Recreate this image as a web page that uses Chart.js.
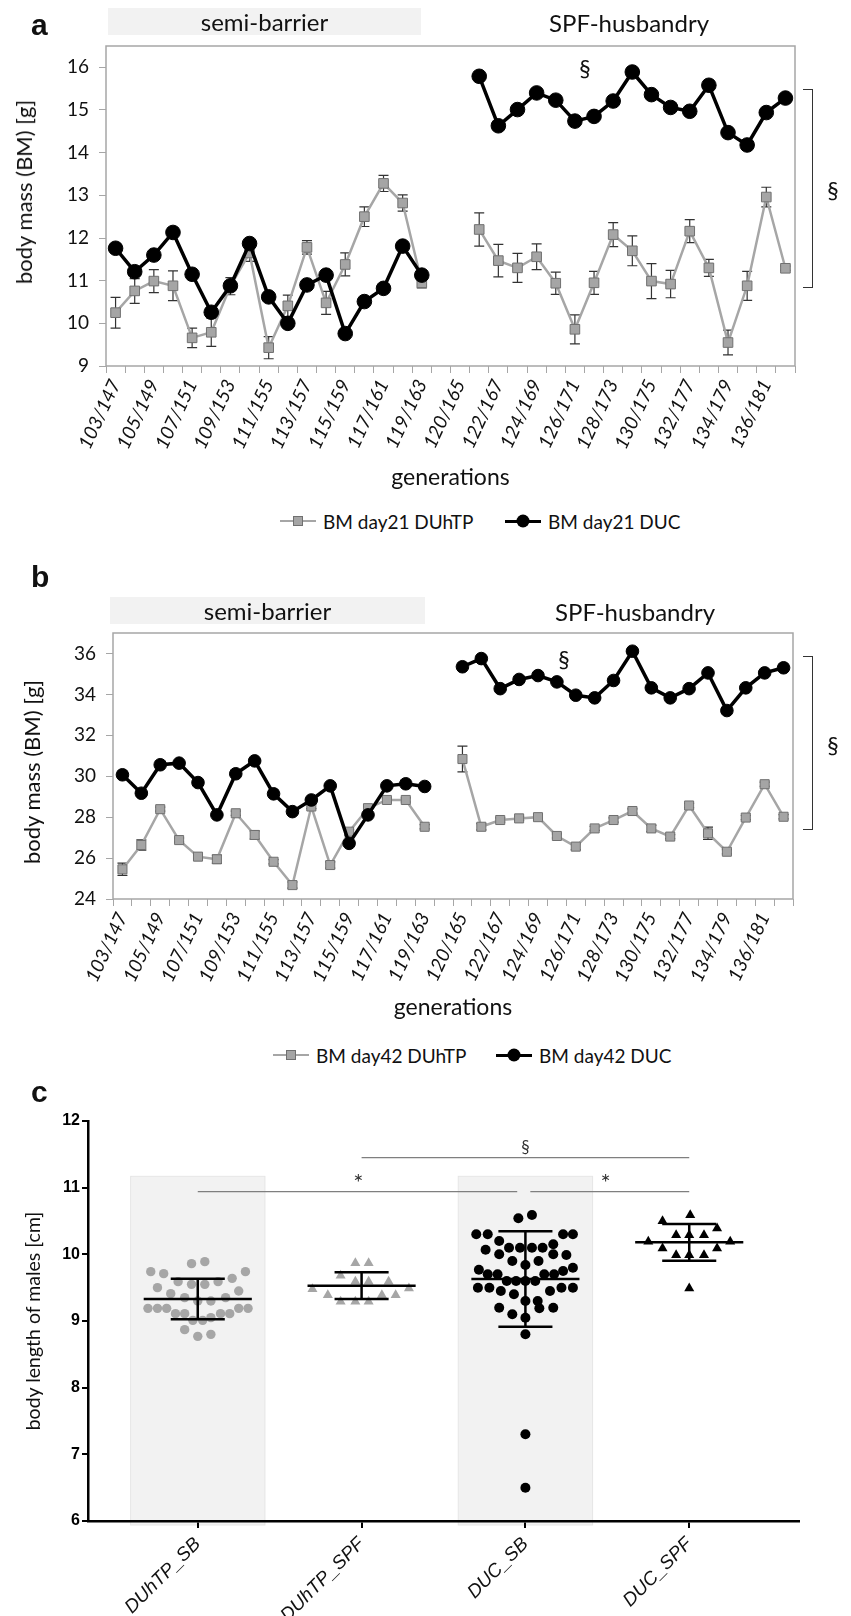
<!DOCTYPE html>
<html>
<head>
<meta charset="utf-8">
<script src="https://cdn.jsdelivr.net/npm/chart.js@4.4.1/dist/chart.umd.min.js"></script>
<style>
  body { margin: 0; background: #fff; }
  #page { position: relative; width: 851px; height: 1616px; overflow: hidden; font-family: Lato, sans-serif; color: #111; }
  canvas { position: absolute; left: 0; }
  .abs { position: absolute; white-space: nowrap; }
  .panel { font: bold 30px "Liberation Sans", Arial, sans-serif; line-height: 30px; }
  .head { height: 27px; line-height: 27px; text-align: center; font-size: 24px; }
  .ytitle { transform: translate(-50%, -50%) rotate(-90deg); font-size: 22px; line-height: 1; }
  .sect { font-size: 23px; line-height: 1; transform: translate(-50%, -50%); }
  .bracket { border: 1.5px solid #333; border-left: none; width: 9px; }
  .legend { display: flex; align-items: center; font-size: 19px; height: 22px; transform: translateY(-50%); }
  .key { position: relative; width: 36px; margin-right: 7px; }
  .key .ln { position: absolute; left: 0; right: 0; top: 50%; }
  .key .mk { position: absolute; left: 50%; top: 50%; transform: translate(-50%, -50%); box-sizing: border-box; }
</style>
</head>
<body>
<div id="page">
  <canvas id="chartA" width="851" height="495" style="top:0"></canvas>
  <canvas id="chartB" width="851" height="485" style="top:540px"></canvas>
  <canvas id="chartC" width="851" height="536" style="top:1080px"></canvas>

  <!-- panel a -->
  <div class="abs panel" style="left:31px;top:10px">a</div>
  <div class="abs head" style="left:108px;top:8px;width:313px;background:#f2f2f2">semi-barrier</div>
  <div class="abs head" style="left:479px;top:9px;width:300px">SPF-husbandry</div>
  <div class="abs ytitle" style="left:24px;top:192px">body mass (BM) [g]</div>
  <div class="abs sect" style="left:585px;top:68px">§</div>
  <div class="abs bracket" style="left:803px;top:89px;height:197px"></div>
  <div class="abs sect" style="left:833px;top:190px">§</div>
  <div class="abs legend" style="left:280px;top:521px">
    <span class="key" style="height:22px"><span class="ln" style="height:2.5px;margin-top:-1.25px;background:#a6a6a6"></span><span class="mk" style="width:10px;height:10px;background:#a5a5a5;border:1px solid #707070"></span></span>BM day21 DUhTP
  </div>
  <div class="abs legend" style="left:505px;top:521px">
    <span class="key" style="height:22px"><span class="ln" style="height:3px;margin-top:-1.5px;background:#000"></span><span class="mk" style="width:13px;height:13px;background:#000;border-radius:50%"></span></span>BM day21 DUC
  </div>

  <!-- panel b -->
  <div class="abs panel" style="left:31px;top:562px">b</div>
  <div class="abs head" style="left:110px;top:597px;width:315px;background:#f2f2f2">semi-barrier</div>
  <div class="abs head" style="left:485px;top:598px;width:300px">SPF-husbandry</div>
  <div class="abs ytitle" style="left:32px;top:772px">body mass (BM) [g]</div>
  <div class="abs sect" style="left:564px;top:659px">§</div>
  <div class="abs bracket" style="left:803px;top:656px;height:172px"></div>
  <div class="abs sect" style="left:833px;top:745px">§</div>
  <div class="abs legend" style="left:273px;top:1055px">
    <span class="key" style="height:22px"><span class="ln" style="height:2.5px;margin-top:-1.25px;background:#a6a6a6"></span><span class="mk" style="width:10px;height:10px;background:#a5a5a5;border:1px solid #707070"></span></span>BM day42 DUhTP
  </div>
  <div class="abs legend" style="left:496px;top:1055px">
    <span class="key" style="height:22px"><span class="ln" style="height:3px;margin-top:-1.5px;background:#000"></span><span class="mk" style="width:13px;height:13px;background:#000;border-radius:50%"></span></span>BM day42 DUC
  </div>

  <!-- panel c -->
  <div class="abs panel" style="left:31px;top:1077px">c</div>
  <div class="abs ytitle" style="left:33px;top:1321px;font-size:19.5px">body length of males [cm]</div>
</div>

<script>
// generations shown on the x axis (every second slot carries a label)
const genLabels = ['103/147', '105/149', '107/151', '109/153', '111/155', '113/157', '115/159', '117/161', '119/163',
                   '120/165', '122/167', '124/169', '126/171', '128/173', '130/175', '132/177', '134/179', '136/181'];

// panel a: body mass at day 21 (g)
const bm21DUhTP = [10.25, 10.76, 10.99, 10.88, 9.66, 9.79, 10.87, 11.65, 9.43, 10.41, 11.78, 10.48, 11.38, 12.50, 13.28, 12.82, 10.95,
                   null, null,
                   12.20, 11.47, 11.30, 11.56, 10.94, 9.86, 10.95, 12.08, 11.70, 10.99, 10.92, 12.16, 11.30, 9.55, 10.88, 12.96, 11.29];
const bm21DUhTPsem = [0.36, 0.29, 0.27, 0.35, 0.23, 0.33, 0.2, 0.2, 0.26, 0.25, 0.16, 0.27, 0.27, 0.23, 0.19, 0.19, 0.12,
                      null, null,
                      0.39, 0.38, 0.34, 0.30, 0.26, 0.34, 0.27, 0.28, 0.35, 0.41, 0.32, 0.27, 0.2, 0.29, 0.34, 0.23, 0.05];
const bm21DUC = [11.76, 11.21, 11.60, 12.13, 11.15, 10.26, 10.88, 11.87, 10.62, 10.00, 10.90, 11.13, 9.76, 10.51, 10.82, 11.81, 11.13,
                 null, null,
                 15.79, 14.63, 15.01, 15.40, 15.23, 14.74, 14.85, 15.21, 15.89, 15.36, 15.06, 14.97, 15.58, 14.47, 14.18, 14.94, 15.28];

// panel b: body mass at day 42 (g)
const bm42DUhTP = [25.45, 26.64, 28.39, 26.88, 26.07, 25.94, 28.19, 27.13, 25.82, 24.68, 28.52, 25.66, 27.29, 28.44, 28.84, 28.84, 27.53,
                   null,
                   30.84, 27.53, 27.86, 27.94, 28.00, 27.08, 26.56, 27.45, 27.86, 28.30, 27.45, 27.05, 28.57, 27.21, 26.31, 27.98, 29.61, 28.02];
const bm42DUhTPsem = [0.3, 0.25, 0.1, 0.1, 0.1, 0.2, 0.1, 0.2, 0.1, 0.15, 0.1, 0.15, 0.1, 0.1, 0.1, 0.1, 0.1,
                      null,
                      0.63, 0.15, 0.1, 0.1, 0.1, 0.1, 0.15, 0.1, 0.1, 0.1, 0.15, 0.1, 0.1, 0.3, 0.1, 0.1, 0.1, 0.1];
const bm42DUC = [30.07, 29.17, 30.56, 30.64, 29.69, 28.11, 30.12, 30.75, 29.14, 28.27, 28.84, 29.53, 26.72, 28.11, 29.53, 29.63, 29.50,
                 null,
                 35.35, 35.75, 34.28, 34.73, 34.92, 34.61, 33.96, 33.83, 34.68, 36.11, 34.32, 33.83, 34.28, 35.05, 33.21, 34.32, 35.05, 35.30];

const yTicksA = [9, 10, 11, 12, 13, 14, 15, 16];
const yTicksB = [24, 26, 28, 30, 32, 34, 36];

// panel c: body length of males (cm); each point = [spread within group, value]
const groupsC = ['DUhTP_SB', 'DUhTP_SPF', 'DUC_SB', 'DUC_SPF'];
const lenDUhTP_SB = [[-0.287, 9.74], [-0.208, 9.71], [-0.038, 9.86], [0.043, 9.89], [0.291, 9.74], [0.21, 9.64], [-0.12, 9.59],
  [-0.038, 9.55], [0.043, 9.55], [0.124, 9.59], [-0.246, 9.50], [0.25, 9.45], [-0.165, 9.41], [-0.08, 9.35], [0, 9.30],
  [0.08, 9.30], [0.17, 9.35], [-0.304, 9.19], [-0.246, 9.19], [-0.19, 9.19], [0.25, 9.19], [0.307, 9.19], [-0.136, 9.11],
  [-0.08, 9.11], [0.139, 9.11], [0.195, 9.11], [-0.03, 9.01], [0.03, 9.01], [0.08, 9.05], [-0.08, 8.87], [0, 8.77], [0.08, 8.80]];
const lenDUhTP_SPF = [[-0.038, 9.87], [0.043, 9.87], [-0.128, 9.68], [-0.038, 9.59], [0.043, 9.59], [0.165, 9.59], [-0.30, 9.48],
  [0.289, 9.49], [-0.206, 9.39], [0.124, 9.39], [0.208, 9.39], [-0.128, 9.29], [-0.038, 9.29], [0.043, 9.29]];
const lenDUC_SB = [[-0.043, 10.54], [0.04, 10.59], [-0.30, 10.30], [-0.23, 10.30], [0.23, 10.30], [0.29, 10.30], [-0.16, 10.20],
  [0.17, 10.15], [-0.243, 10.07], [-0.10, 10.10], [-0.033, 10.10], [0.04, 10.10], [0.105, 10.10], [-0.16, 10.0], [0.17, 10.0],
  [0.25, 9.99], [-0.08, 9.90], [0.08, 9.90], [0, 9.84], [0.29, 9.80], [-0.284, 9.77], [-0.23, 9.70], [-0.17, 9.70], [0.23, 9.75],
  [0.115, 9.70], [0.175, 9.70], [-0.114, 9.60], [-0.057, 9.60], [0, 9.60], [0.06, 9.60], [-0.29, 9.50], [-0.22, 9.50],
  [-0.15, 9.45], [-0.07, 9.40], [0.15, 9.45], [0.22, 9.50], [0.29, 9.50], [0, 9.30], [0.075, 9.30], [0.085, 9.19], [-0.16, 9.20],
  [0.17, 9.20], [0, 9.05], [-0.08, 9.10], [0, 8.80], [0, 7.30], [0, 6.50]];
const lenDUC_SPF = [[0.006, 10.59], [-0.163, 10.50], [0.17, 10.39], [-0.08, 10.29], [0, 10.29], [0.09, 10.29], [-0.25, 10.19],
  [0.25, 10.19], [-0.163, 10.09], [0.17, 10.09], [-0.08, 9.99], [0, 9.99], [0.09, 9.99], [0, 9.49]];
const meansC = [9.33, 9.53, 9.63, 10.18];
const sdC = [0.305, 0.2, 0.715, 0.275];
const yTicksC = [6, 7, 8, 9, 10, 11, 12];
// significance bars: from group, to group, level, symbol, symbol position
const sigC = [[2, 4, 11.45, '§', 3.0], [1, 2.95, 10.94, '*', 1.98], [3.03, 4, 10.94, '*', 3.49]];
const shadedC = [1, 3];

// two slots per labelled generation
const slots = [];
genLabels.forEach(l => slots.push(l, ''));

Chart.defaults.animation = false;
Chart.defaults.plugins.legend.display = false;
Chart.defaults.plugins.tooltip.enabled = false;

// grey plot-area frame like the spreadsheet charts
const frame = {
  id: 'frame',
  beforeDatasetsDraw(chart, args, opts) {
    if (!opts.color) return;
    const { ctx, chartArea: a } = chart;
    ctx.save();
    ctx.strokeStyle = opts.color;
    ctx.lineWidth = opts.width || 1;
    ctx.strokeRect(a.left, a.top, a.right - a.left, a.bottom - a.top);
    ctx.restore();
  }
};

// error bars for datasets that carry an "errors" array
const errorBars = {
  id: 'errorBars',
  beforeDatasetDraw(chart, args) {
    const ds = chart.data.datasets[args.index];
    if (!ds.errors) return;
    const { ctx } = chart;
    const x = chart.scales.x, y = chart.scales.y;
    ctx.save();
    ctx.strokeStyle = '#333';
    ctx.lineWidth = 1.2;
    ds.data.forEach((v, i) => {
      const e = ds.errors[i];
      if (v == null || !e) return;
      const px = x.getPixelForValue(i);
      const top = y.getPixelForValue(v + e), bot = y.getPixelForValue(v - e);
      ctx.beginPath();
      ctx.moveTo(px, top); ctx.lineTo(px, bot);
      ctx.moveTo(px - 5, top); ctx.lineTo(px + 5, top);
      ctx.moveTo(px - 5, bot); ctx.lineTo(px + 5, bot);
      ctx.stroke();
    });
    ctx.restore();
  }
};

function massChart(id, cfg) {
  const font = { family: 'Lato, sans-serif', size: 19 };
  return new Chart(document.getElementById(id), {
    type: 'line',
    data: {
      labels: slots,
      datasets: [
        {
          label: cfg.names[0], data: cfg.grey, errors: cfg.greyErr, order: 2,
          borderColor: '#a6a6a6', borderWidth: 2.5, pointStyle: 'rect', pointRadius: cfg.sq,
          pointBackgroundColor: '#a5a5a5', pointBorderColor: '#707070', pointBorderWidth: 1, spanGaps: false
        },
        {
          label: cfg.names[1], data: cfg.black, order: 1,
          borderColor: '#000', borderWidth: 3.5, pointStyle: 'circle', pointRadius: cfg.dot,
          pointBackgroundColor: '#000', pointBorderColor: '#000', pointBorderWidth: 1, spanGaps: false
        }
      ]
    },
    options: {
      responsive: false,
      layout: { padding: { top: cfg.padTop, right: cfg.padRight, left: 0, bottom: 0 } },
      scales: {
        x: {
          offset: true,
          grid: { offset: true, drawOnChartArea: false, tickLength: 7, color: '#a6a6a6' },
          border: { display: false },
          ticks: { autoSkip: false, minRotation: 65, maxRotation: 65, padding: 3, color: '#111',
                   font: { family: font.family, size: 19, style: 'italic' } },
          title: { display: true, text: 'generations', color: '#111', font: { family: font.family, size: 23 }, padding: { top: 0, bottom: 4 } },
          afterFit: s => { s.height = cfg.xH; }
        },
        y: {
          min: cfg.min, max: cfg.max,
          afterBuildTicks: s => { s.ticks = cfg.ticks.map(v => ({ value: v })); },
          grid: { drawOnChartArea: false, tickLength: 7, color: '#a6a6a6' },
          border: { display: false },
          ticks: { padding: 10, color: '#111', font },
          afterFit: s => { s.width = cfg.yW; }
        }
      },
      plugins: { frame: { color: '#a6a6a6', width: 1.5 } }
    },
    plugins: [frame, errorBars]
  });
}

massChart('chartA', {
  names: ['BM day21 DUhTP', 'BM day21 DUC'],
  grey: bm21DUhTP, greyErr: bm21DUhTPsem, black: bm21DUC,
  min: 9, max: 16.5, ticks: yTicksA, sq: 6.8, dot: 7.3,
  padTop: 46, padRight: 56, yW: 106, xH: 129
});

massChart('chartB', {
  names: ['BM day42 DUhTP', 'BM day42 DUC'],
  grey: bm42DUhTP, greyErr: bm42DUhTPsem, black: bm42DUC,
  min: 24, max: 37, ticks: yTicksB, sq: 6.4, dot: 6.3,
  padTop: 93, padRight: 58, yW: 113, xH: 126
});

// panel c decorations: shaded semi-barrier columns, mean +/- SD, significance bars
const prismDecor = {
  id: 'prismDecor',
  beforeDraw(chart) {
    const { ctx } = chart;
    const x = chart.scales.x, y = chart.scales.y;
    ctx.save();
    ctx.fillStyle = '#f2f2f2';
    ctx.strokeStyle = '#e6e6e6';
    ctx.lineWidth = 1;
    shadedC.forEach(g => {
      const l = x.getPixelForValue(g - 0.41), r = x.getPixelForValue(g + 0.41);
      const t = y.getPixelForValue(11.17), b = y.getPixelForValue(5.94);
      ctx.fillRect(l, t, r - l, b - t);
      ctx.strokeRect(l, t, r - l, b - t);
    });
    ctx.restore();
  },
  afterDatasetsDraw(chart) {
    const { ctx } = chart;
    const x = chart.scales.x, y = chart.scales.y;
    ctx.save();
    ctx.strokeStyle = '#000';
    ctx.lineWidth = 2.5;
    meansC.forEach((m, i) => {
      const g = i + 1, s = sdC[i];
      const ym = y.getPixelForValue(m), yt = y.getPixelForValue(m + s), yb = y.getPixelForValue(m - s);
      ctx.beginPath();
      ctx.moveTo(x.getPixelForValue(g - 0.33), ym); ctx.lineTo(x.getPixelForValue(g + 0.33), ym);
      ctx.moveTo(x.getPixelForValue(g), yt); ctx.lineTo(x.getPixelForValue(g), yb);
      ctx.moveTo(x.getPixelForValue(g - 0.165), yt); ctx.lineTo(x.getPixelForValue(g + 0.165), yt);
      ctx.moveTo(x.getPixelForValue(g - 0.165), yb); ctx.lineTo(x.getPixelForValue(g + 0.165), yb);
      ctx.stroke();
    });
    ctx.restore();
  },
  afterDraw(chart) {
    const { ctx } = chart;
    const x = chart.scales.x, y = chart.scales.y;
    ctx.save();
    ctx.strokeStyle = '#7f7f7f';
    ctx.lineWidth = 1.3;
    ctx.fillStyle = '#333';
    ctx.textAlign = 'center';
    sigC.forEach(([from, to, lvl, sym, at]) => {
      const py = y.getPixelForValue(lvl);
      ctx.beginPath();
      ctx.moveTo(x.getPixelForValue(from), py); ctx.lineTo(x.getPixelForValue(to), py);
      ctx.stroke();
      ctx.font = sym === '*' ? '24px Lato, sans-serif' : '17px Lato, sans-serif';
      ctx.textBaseline = 'alphabetic';
      ctx.fillText(sym, x.getPixelForValue(at), sym === '*' ? py - 1 : py - 5);
    });
    ctx.restore();
  }
};

const toPts = (arr, g) => arr.map(([dx, v]) => ({ x: g + dx, y: v }));
const axisFont = { family: '"Liberation Sans", Arial, sans-serif' };

new Chart(document.getElementById('chartC'), {
  type: 'scatter',
  data: {
    datasets: [
      { label: groupsC[0], data: toPts(lenDUhTP_SB, 1), pointStyle: 'circle', pointRadius: 4.7, pointBackgroundColor: '#a6a6a6', pointBorderWidth: 0 },
      { label: groupsC[1], data: toPts(lenDUhTP_SPF, 2), pointStyle: 'triangle', pointRadius: 5.8, pointBackgroundColor: '#a6a6a6', pointBorderWidth: 0 },
      { label: groupsC[2], data: toPts(lenDUC_SB, 3), pointStyle: 'circle', pointRadius: 5, pointBackgroundColor: '#000', pointBorderWidth: 0 },
      { label: groupsC[3], data: toPts(lenDUC_SPF, 4), pointStyle: 'triangle', pointRadius: 5.8, pointBackgroundColor: '#000', pointBorderWidth: 0 }
    ]
  },
  options: {
    responsive: false,
    layout: { padding: { top: 41, right: 52, left: 0, bottom: 0 } },
    scales: {
      x: {
        type: 'linear', min: 0.33, max: 4.67,
        afterBuildTicks: s => { s.ticks = groupsC.map((g, i) => ({ value: i + 1 })); },
        ticks: { callback: v => groupsC[v - 1], minRotation: 45, maxRotation: 45, padding: 5, color: '#111',
                 font: { family: axisFont.family, style: 'italic', size: 19 } },
        grid: { drawOnChartArea: false, tickLength: 7, color: '#000', lineWidth: 2 },
        border: { color: '#000', width: 2.5 },
        afterFit: s => { s.height = 95; }
      },
      y: {
        min: 6, max: 12,
        afterBuildTicks: s => { s.ticks = yTicksC.map(v => ({ value: v })); },
        ticks: { padding: 2, color: '#000', font: { family: axisFont.family, weight: 'bold', size: 16 } },
        grid: { drawOnChartArea: false, tickLength: 6, color: '#000', lineWidth: 2 },
        border: { color: '#000', width: 2.5 },
        afterFit: s => { s.width = 88; }
      }
    }
  },
  plugins: [prismDecor]
});
</script>
</body>
</html>
